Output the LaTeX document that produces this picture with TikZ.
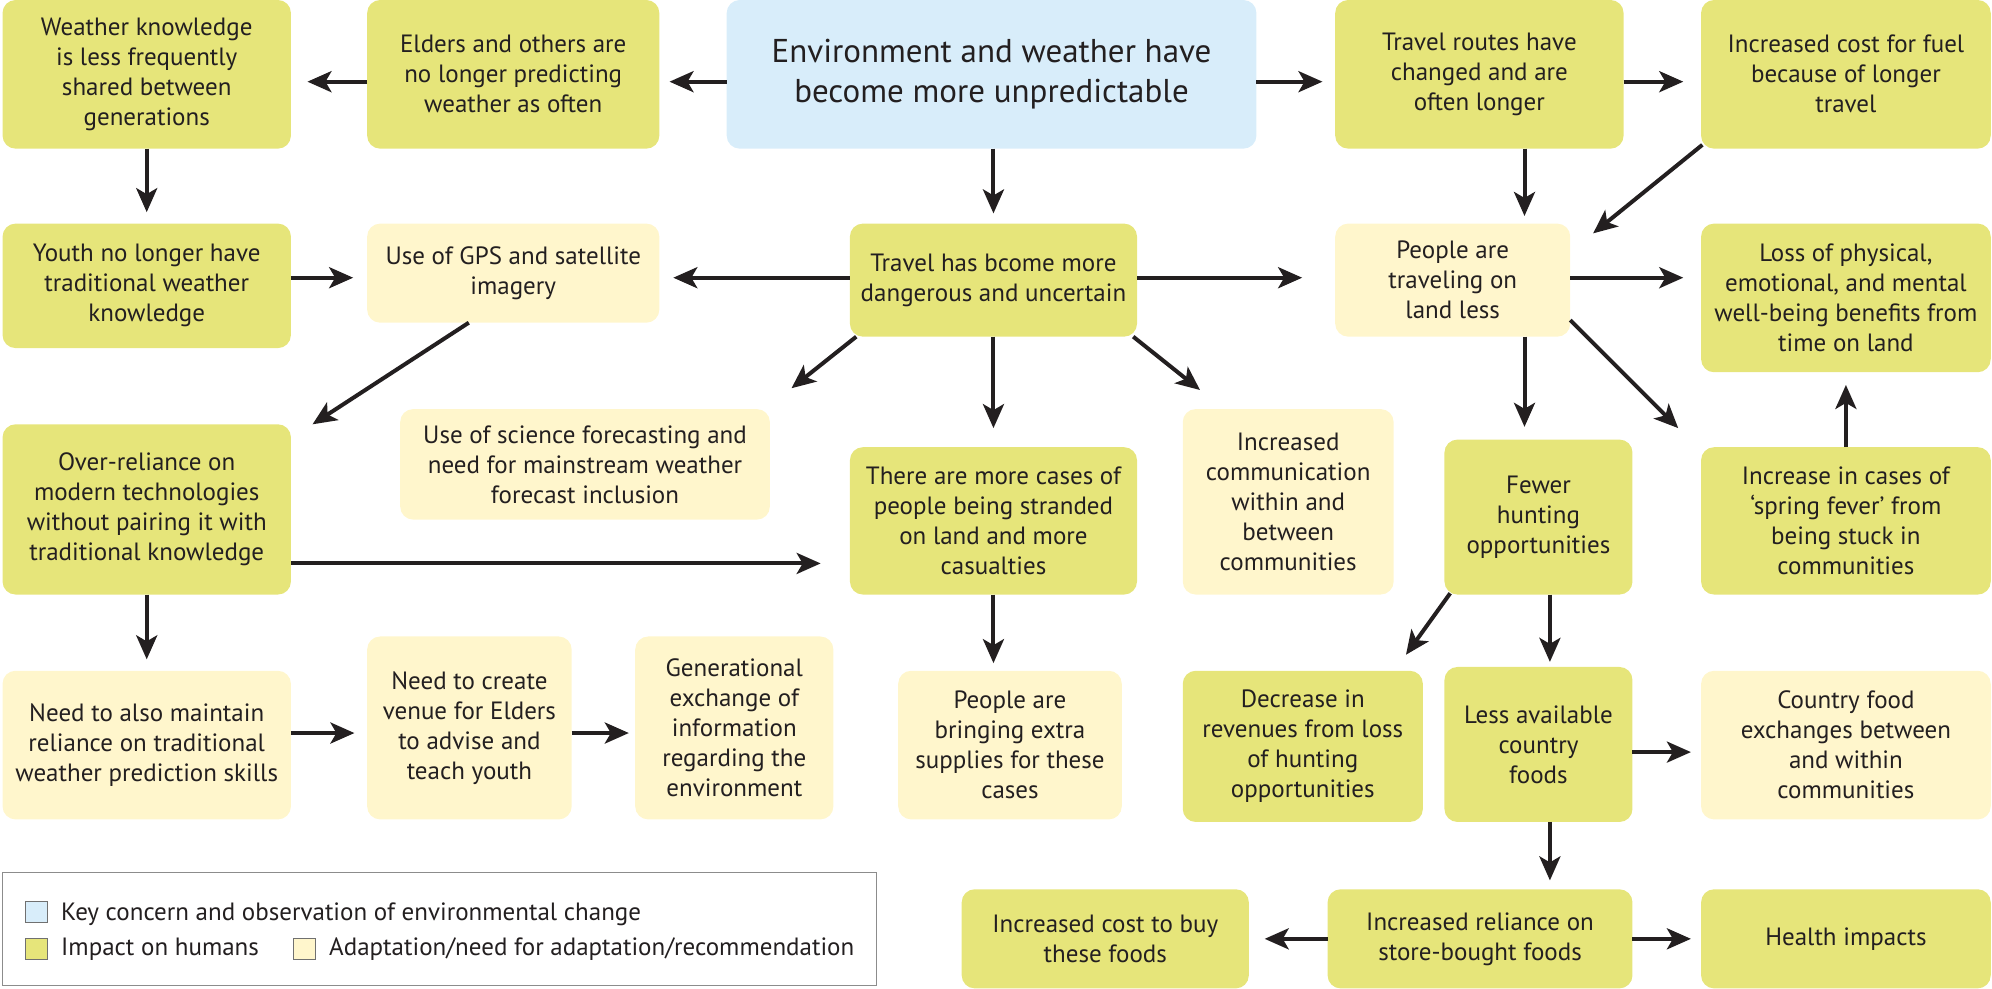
\documentclass[tikz,border=0pt]{standalone}
\usepackage{fontspec}
\setmainfont{PT Sans}
\usetikzlibrary{arrows.meta,calc}
\definecolor{imp}{HTML}{E6E57A}
\definecolor{adp}{HTML}{FFF6CC}
\definecolor{keyc}{HTML}{D8EDFA}
\definecolor{ink}{HTML}{231F20}
\definecolor{lgray}{HTML}{8C8C8C}
\newcommand{\mkbox}[7]{%
  \pgfmathsetmacro\bw{(#5-#3)*1.2704}%
  \pgfmathsetmacro\bh{(#6-#4)*1.2704}%
  \node[#2, minimum width=\bw pt, minimum height=\bh pt] (#1) at ({(#3+#5)/2},{(#4+#6)/2}) {#7};%
}
\tikzset{
  basebox/.style={inner sep=0pt, outer sep=0pt, align=center, rounded corners=13pt, text=ink, font=\fontsize{25}{30}\selectfont},
  impact/.style={basebox, fill=imp},
  adapt/.style={basebox, fill=adp},
  keybox/.style={basebox, fill=keyc, font=\fontsize{33}{40}\selectfont},
  legbox/.style={inner sep=0pt, outer sep=0pt, draw=lgray, line width=1.3pt, fill=white},
  swatch/.style={inner sep=0pt, outer sep=0pt, draw=lgray!80!black, line width=1pt},
  legtext/.style={inner sep=0pt, text=ink, font=\fontsize{25}{30}\selectfont, anchor=base west},
  arr/.style={draw=ink, line width=4pt, -{Stealth[length=24pt,width=21pt,inset=6pt]}},
}
\begin{document}
\begin{tikzpicture}[x=1.2704pt, y=-1.2704pt]
\useasboundingbox (0,0) rectangle (1568,778);
% row 1
\mkbox{b1}{impact}{2}{0}{229}{117}{Weather knowledge\\is less frequently\\shared between\\generations}
\mkbox{b2}{impact}{289}{0}{519}{117}{Elders and others are\\no longer predicting\\weather as often}
\mkbox{b3}{keybox}{572}{0}{989}{117}{Environment and weather have\\become more unpredictable}
\mkbox{b4}{impact}{1051}{0}{1278}{117}{Travel routes have\\changed and are\\often longer}
\mkbox{b5}{impact}{1339}{0}{1567}{117}{Increased cost for fuel\\because of longer\\travel}
% row 2
\mkbox{b6}{impact}{2}{176}{229}{274}{Youth no longer have\\traditional weather\\knowledge}
\mkbox{b7}{adapt}{289}{176}{519}{254}{Use of GPS and satellite\\imagery}
\mkbox{b8}{impact}{669}{176}{895}{265}{Travel has bcome more\\dangerous and uncertain}
\mkbox{b9}{adapt}{1051}{176}{1236}{265}{People are\\traveling on\\land less}
\mkbox{b10}{impact}{1339}{176}{1567}{293}{Loss of physical,\\emotional, and mental\\well-being benefits from\\time on land}
% row 3
\mkbox{b11}{impact}{2}{334}{229}{468}{Over-reliance on\\modern technologies\\without pairing it with\\traditional knowledge}
\mkbox{b12}{adapt}{315}{322}{606}{409}{Use of science forecasting and\\need for mainstream weather\\forecast inclusion}
\mkbox{b13}{impact}{669}{352}{895}{468}{There are more cases of\\people being stranded\\on land and more\\casualties}
\mkbox{b14}{adapt}{931}{322}{1097}{468}{Increased\\communication\\within and\\between\\communities}
\mkbox{b15}{impact}{1137}{346}{1285}{468}{Fewer\\hunting\\opportunities}
\mkbox{b16}{impact}{1339}{352}{1567}{468}{Increase in cases of\\‘spring fever’ from\\being stuck in\\communities}
% row 4
\mkbox{b17}{adapt}{2}{528}{229}{645}{Need to also maintain\\reliance on traditional\\weather prediction skills}
\mkbox{b18}{adapt}{289}{501}{450}{645}{Need to create\\venue for Elders\\to advise and\\teach youth}
\mkbox{b19}{adapt}{500}{501}{656}{645}{Generational\\exchange of\\information\\regarding the\\environment}
\mkbox{b20}{adapt}{707}{528}{883}{645}{People are\\bringing extra\\supplies for these\\cases}
\mkbox{b21}{impact}{931}{528}{1120}{647}{Decrease in\\revenues from loss\\of hunting\\opportunities}
\mkbox{b22}{impact}{1137}{525}{1285}{647}{Less available\\country\\foods}
\mkbox{b23}{adapt}{1339}{528}{1567}{645}{Country food\\exchanges between\\and within\\communities}
% row 5
\mkbox{b24}{impact}{757}{700}{983}{778}{Increased cost to buy\\these foods}
\mkbox{b25}{impact}{1045}{700}{1285}{778}{Increased reliance on\\store-bought foods}
\mkbox{b26}{impact}{1339}{700}{1567}{778}{Health impacts}
% legend
\mkbox{lg}{legbox}{2}{687}{690}{776}{}
\mkbox{s1}{swatch, fill=keyc}{20}{709.6}{37}{725.8}{}
\mkbox{s2}{swatch, fill=imp}{20}{738.5}{37}{755.4}{}
\mkbox{s3}{swatch, fill=adp}{231}{738.5}{248.4}{755.4}{}
\node[legtext] (t1) at (48,724.5) {Key concern and observation of environmental change};
\node[legtext] (t2) at (48,752) {Impact on humans};
\node[legtext] (t3) at (259,752) {Adaptation/need for adaptation/recommendation};
% helper coordinates
\coordinate (vx) at (1200,0);
\coordinate (vx2) at (1220,0);
\coordinate (r2) at (0,218.6);
\coordinate (r3) at (0,443.5);
\coordinate (r4) at (0,577);
\coordinate (r5) at (0,592);
% arrows
\draw[arr] ($(b3.west)+(0,5.8)$) -- ($(b2.east)+(8,5.8)$);
\draw[arr] ($(b2.west)+(0,5.8)$) -- ($(b1.east)+(13,5.8)$);
\draw[arr] ($(b3.east)+(0,5.8)$) -- ($(b4.west)+(-10,5.8)$);
\draw[arr] ($(b4.east)+(0,5.8)$) -- ($(b5.west)+(-14,5.8)$);
\draw[arr] (b1.south) -- ($(b6.north)+(0,-9)$);
\draw[arr] (b3.south -| b8.north) -- ($(b8.north)+(0,-8)$);
\draw[arr] (b4.south -| vx) -- ($(b9.north -| vx)+(0,-6)$);
\draw[arr] ($(b5.south west)+(1,-3)$) -- ($(b9.north east)+(18,7.7)$);
\draw[arr] (b6.east |- r2) -- ($(b7.west |- r2)+(-11,0)$);
\draw[arr] (b8.west |- r2) -- ($(b7.east |- r2)+(11,0)$);
\draw[arr] (b8.east |- r2) -- ($(b9.west |- r2)+(-26,0)$);
\draw[arr] (b9.east |- r2) -- ($(b10.west |- r2)+(-14,0)$);
\draw[arr] ($(b7.south)+(-35,0)$) -- ($(b11.north east)+(17,0)$);
\draw[arr] ($(b8.south west)+(5,0)$) -- ($(b12.north east)+(17,-16.4)$);
\draw[arr] ($(b8.south east)+(-3,0)$) -- ($(b14.north west)+(13.6,-15)$);
\draw[arr] (b8.south) -- ($(b13.north)+(0,-15)$);
\draw[arr] (b9.south -| vx) -- ($(b15.north -| vx)+(0,-10)$);
\draw[arr] ($(b9.south east)+(0,-13)$) -- ($(b16.north west)+(-18,-15)$);
\draw[arr] (b16.north) -- ($(b10.south)+(0,10)$);
\draw[arr] (b11.east |- r3) -- ($(b13.west |- r3)+(-23,0)$);
\draw[arr] (b11.south) -- ($(b17.north)+(0,-9)$);
\draw[arr] (b13.south) -- ($(b20.north -| b13.south)+(0,-6)$);
\draw[arr] (b17.east |- r4) -- ($(b18.west |- r4)+(-10,0)$);
\draw[arr] (b18.east |- r4) -- ($(b19.west |- r4)+(-5,0)$);
\draw[arr] ($(b15.south west)+(4.5,-1)$) -- ($(b21.north east)+(-13.3,-12.6)$);
\draw[arr] (b15.south -| vx2) -- ($(b22.north -| vx2)+(0,-4)$);
\draw[arr] (b22.east |- r5) -- ($(b23.west |- r5)+(-8,0)$);
\draw[arr] (b22.south -| vx2) -- ($(b25.north -| vx2)+(0,-7)$);
\draw[arr] (b25.west) -- ($(b24.east)+(12.5,0)$);
\draw[arr] (b25.east) -- ($(b26.west)+(-8,0)$);
\end{tikzpicture}
\end{document}
